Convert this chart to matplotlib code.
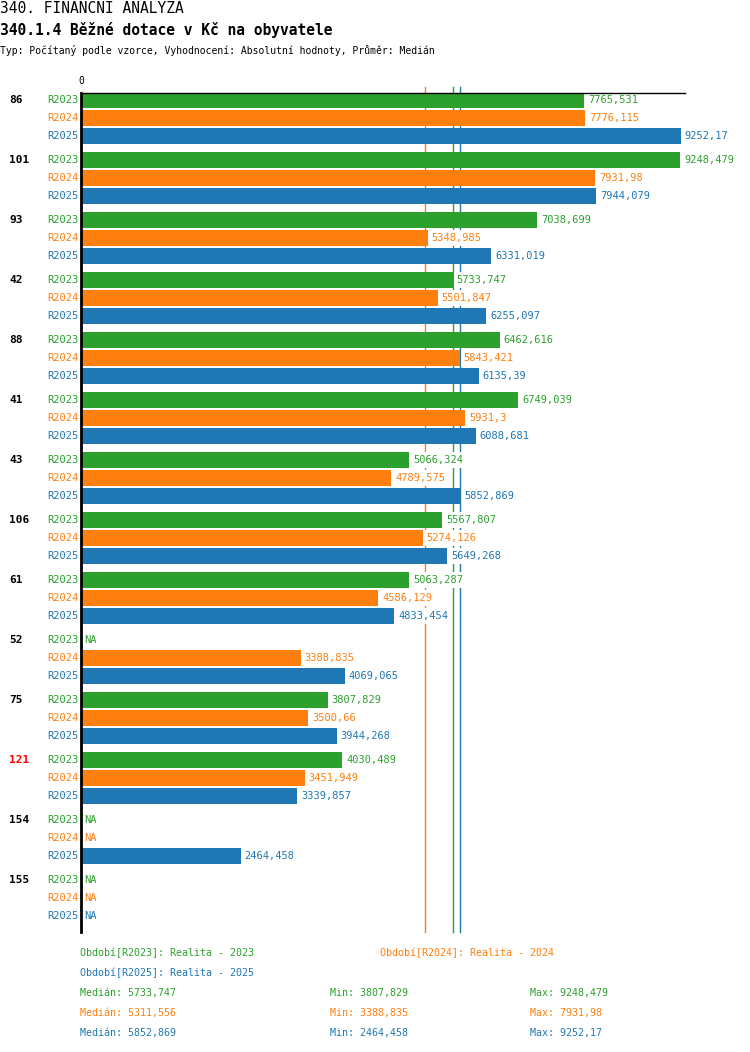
import numpy as np
import matplotlib
matplotlib.use("Agg")
import matplotlib.pyplot as plt
from matplotlib.transforms import blended_transform_factory

# --- data -------------------------------------------------------------
groups = ["86", "101", "93", "42", "88", "41", "43", "106", "61", "52", "75", "121", "154", "155"]
highlight = ["121"]
series = ["R2023", "R2024", "R2025"]
colors = ["#2ca02c", "#ff7f0e", "#1f77b4"]

r2023 = [7765.531, 9248.479, 7038.699, 5733.747, 6462.616, 6749.039, 5066.324,
         5567.807, 5063.287, None, 3807.829, 4030.489, None, None]
r2024 = [7776.115, 7931.98, 5348.985, 5501.847, 5843.421, 5931.3, 4789.575,
         5274.126, 4586.129, 3388.835, 3500.66, 3451.949, None, None]
r2025 = [9252.17, 7944.079, 6331.019, 6255.097, 6135.39, 6088.681, 5852.869,
         5649.268, 4833.454, 4069.065, 3944.268, 3339.857, 2464.458, None]
values = [r2023, r2024, r2025]

medians = [5733.747, 5311.556, 5852.869]
mins = [3807.829, 3388.835, 2464.458]
maxs = [9248.479, 7931.98, 9252.17]
period_labels = ["Období[R2023]: Realita - 2023",
                 "Období[R2024]: Realita - 2024",
                 "Období[R2025]: Realita - 2025"]

title = "340. FINANČNÍ ANALÝZA"
subtitle = "340.1.4 Běžné dotace v Kč na obyvatele"
info = "Typ: Počítaný podle vzorce, Vyhodnocení: Absolutní hodnoty, Průměr: Medián"


def fmt(v):
    return str(v).replace(".", ",")


W, H = 750, 1052
plt.rcParams["font.family"] = ["DejaVu Sans Mono", "DejaVu Sans"]
fig = plt.figure(figsize=(W / 100, H / 100), dpi=100)


def fx(x):
    return x / W


def fy(y):
    return 1 - y / H


# header
fig.text(fx(0), fy(1), title, fontsize=10.5, va="top", ha="left")
fig.text(fx(0), fy(30), subtitle, fontsize=10.5, fontweight="bold", va="center", ha="left")
fig.text(fx(0), fy(51), info, fontsize=7, va="center", ha="left")

# main axes, y in pixel units
top, bottom, left, right = 93, 932, 81, 685
ax = fig.add_axes([fx(left), fy(bottom), fx(right - left), (bottom - top) / H])
ax.set_ylim(bottom, top)
xmax = 9320
ax.set_xlim(0, xmax)
for s in ["right", "bottom"]:
    ax.spines[s].set_visible(False)
ax.spines["top"].set_linewidth(1)
ax.spines["left"].set_linewidth(2)
ax.spines["top"].set_zorder(6)
ax.spines["left"].set_zorder(6)
ax.set_xticks([])
ax.set_yticks([])
fig.text(fx(81), fy(81), "0", fontsize=7, ha="center", va="center")

label_tr = blended_transform_factory(fig.transFigure, ax.transData)
bar_h = 16
box = dict(facecolor="white", edgecolor="none", boxstyle="square,pad=0.25")
for gi, g in enumerate(groups):
    gy = 100 + 60 * gi
    ax.text(fx(9), gy, g, transform=label_tr, fontsize=8, fontweight="bold",
            color="red" if g in highlight else "black", ha="left", va="center")
    for si, sname in enumerate(series):
        y = gy + 18 * si
        v = values[si][gi]
        ax.text(fx(78), y, sname, transform=label_tr, fontsize=7.5,
                color=colors[si], ha="right", va="center")
        if v is None:
            ax.annotate("NA", (0, y), xytext=(3, 0), textcoords="offset pixels",
                        fontsize=7.5, color=colors[si], ha="left", va="center",
                        bbox=box, zorder=4)
        else:
            ax.barh(y, v, height=bar_h, color=colors[si], zorder=3)
            ax.annotate(fmt(v), (v, y), xytext=(4, 0), textcoords="offset pixels",
                        fontsize=7.5, color=colors[si], ha="left", va="center",
                        bbox=box, zorder=4)

# median lines (behind bars and labels)
for si in range(3):
    ax.axvline(medians[si], ymin=0, ymax=1 + 6 / (bottom - top), color=colors[si],
               lw=1, clip_on=False, zorder=1)

# legend / stats
fig.text(fx(80), fy(953), period_labels[0], color=colors[0], fontsize=7.2, va="center")
fig.text(fx(380), fy(953), period_labels[1], color=colors[1], fontsize=7.2, va="center")
fig.text(fx(80), fy(973), period_labels[2], color=colors[2], fontsize=7.2, va="center")
for si in range(3):
    y = 993 + 20 * si
    fig.text(fx(80), fy(y), "Medián: " + fmt(medians[si]), color=colors[si], fontsize=7.2, va="center")
    fig.text(fx(330), fy(y), "Min: " + fmt(mins[si]), color=colors[si], fontsize=7.2, va="center")
    fig.text(fx(530), fy(y), "Max: " + fmt(maxs[si]), color=colors[si], fontsize=7.2, va="center")

fig.savefig("out.png", dpi=100)
